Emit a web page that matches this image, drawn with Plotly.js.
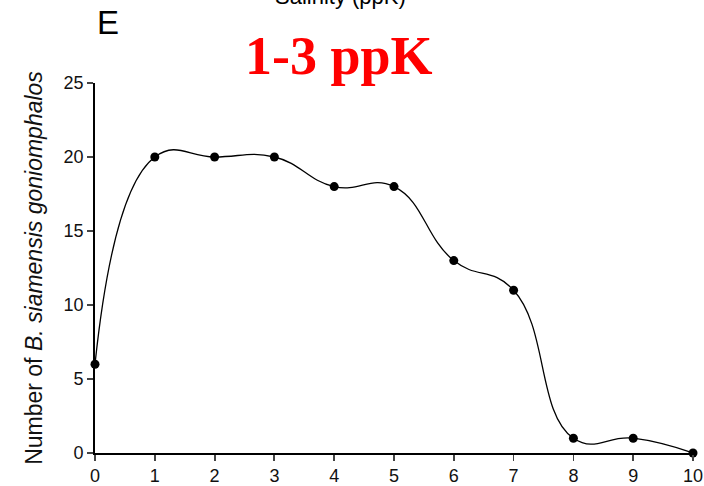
<!DOCTYPE html>
<html><head><meta charset="utf-8">
<script src="https://cdn.plot.ly/plotly-3.0.1.min.js"></script>
<style>html,body{margin:0;padding:0;background:#fff}#chart{width:704px;height:486px}</style>
</head><body><div id="chart"></div>
<script>
const xValues = [0, 1, 2, 3, 4, 5, 6, 7, 8, 9, 10];
const counts = [6, 20, 20, 20, 18, 18, 13, 11, 1, 1, 0];
const xTicks = [0, 1, 2, 3, 4, 5, 6, 7, 8, 9, 10];
const yTicks = [0, 5, 10, 15, 20, 25];

const trace = {
  x: xValues, y: counts, type: 'scatter', mode: 'lines+markers',
  line: {shape: 'spline', smoothing: 1.3, color: '#000', width: 1.3},
  marker: {color: '#000', size: 9},
  cliponaxis: false, hoverinfo: 'none'
};
const layout = {
  width: 704, height: 486,
  margin: {l: 95, r: 11, t: 83, b: 33},
  paper_bgcolor: '#fff', plot_bgcolor: '#fff',
  showlegend: false,
  font: {family: 'Arial, Liberation Sans, sans-serif', color: '#000'},
  xaxis: {range: [0, 10], tickvals: xTicks, ticks: 'outside', ticklen: 6, tickwidth: 1.8,
          showline: true, linewidth: 1.8, linecolor: '#000', showgrid: false, zeroline: false,
          tickfont: {size: 18, color: '#111'}, fixedrange: true},
  yaxis: {range: [0, 25], tickvals: yTicks, ticks: 'outside', ticklen: 6, tickwidth: 1.8,
          showline: true, linewidth: 1.8, linecolor: '#000', showgrid: false, zeroline: false,
          tickfont: {size: 18, color: '#111'}, fixedrange: true,
          title: {text: 'Number of <i>B. siamensis goniomphalos</i>', font: {size: 23, color: '#111'}, standoff: 14}},
  annotations: [
    {text: '1-3 ppK', xref: 'paper', yref: 'paper', x: 0.408, y: 1.0, yanchor: 'bottom', xanchor: 'center',
     yshift: -5, showarrow: false, font: {family: 'Liberation Serif, Times New Roman, serif', size: 54, color: '#ff0000', weight: 'bold'}},
    {text: 'E', xref: 'paper', yref: 'paper', x: 0.022, y: 1.0, yanchor: 'bottom', xanchor: 'center',
     yshift: 40, showarrow: false, font: {size: 33}},
    {text: 'Salinity (ppK)', xref: 'paper', yref: 'paper', x: 0.41, y: 1.0, yanchor: 'bottom', xanchor: 'center',
     yshift: 72, showarrow: false, font: {size: 22}}
  ]
};
Plotly.newPlot('chart', [trace], layout, {displayModeBar: false, staticPlot: true});
</script></body></html>
